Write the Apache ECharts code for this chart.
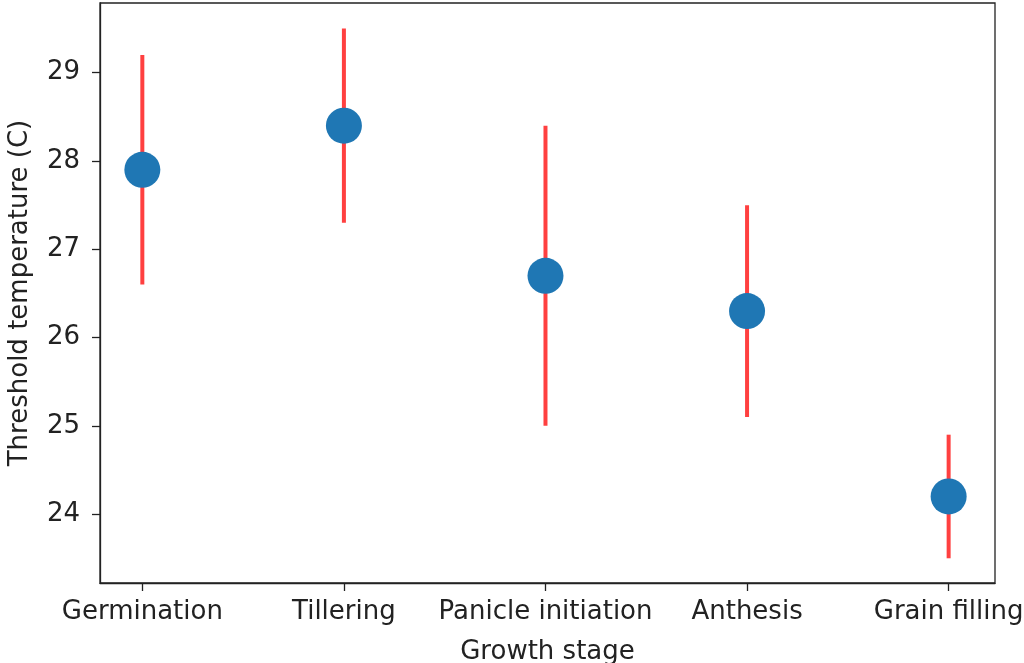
<!DOCTYPE html>
<html>
<head>
<meta charset="utf-8">
<script src="https://cdn.jsdelivr.net/npm/echarts@6/dist/echarts.min.js"></script>
<style>
  html, body { margin: 0; padding: 0; background: #fff; }
  #chart { width: 1024px; height: 663px; }
</style>
</head>
<body>
<div id="chart"></div>
<script>
// Threshold temperature by rice growth stage, with uncertainty ranges
const stages = ['Germination', 'Tillering', 'Panicle initiation', 'Anthesis', 'Grain filling'];
const threshold = [27.9, 28.4, 26.7, 26.3, 24.2];
const lower = [26.6, 27.3, 25.0, 25.1, 23.5];
const upper = [29.2, 29.5, 28.4, 27.5, 24.9];
const yTicks = [24, 25, 26, 27, 28, 29];
const xTicks = [0, 1, 2, 3, 4];

const font = 'DejaVu Sans';
const textColor = '#222';
const frameColor = '#222';

const chart = echarts.init(document.getElementById('chart'), null, { renderer: 'canvas' });

chart.setOption({
  animation: false,
  backgroundColor: '#fff',
  grid: {
    left: 100, right: 29, top: 3, bottom: 80,
    outerBoundsMode: 'none',
    containLabel: false,
    show: true, borderColor: frameColor, borderWidth: 1.3, backgroundColor: 'transparent'
  },
  xAxis: {
    type: 'value',
    min: -0.21, max: 4.23,
    name: 'Growth stage',
    nameLocation: 'middle',
    nameGap: 56,
    nameTextStyle: { fontFamily: font, fontSize: 26, color: textColor },
    axisLine: { show: true, onZero: false, lineStyle: { color: frameColor, width: 1.3 } },
    axisTick: { show: true, length: 8, customValues: xTicks, lineStyle: { color: frameColor, width: 1.3 } },
    axisLabel: {
      customValues: xTicks,
      margin: 16,
      fontFamily: font, fontSize: 26, color: textColor,
      formatter: v => stages[Math.round(v)]
    },
    splitLine: { show: false }
  },
  yAxis: {
    type: 'value',
    min: 23.22, max: 29.79,
    name: 'Threshold temperature (C)',
    nameLocation: 'middle',
    nameGap: 67,
    nameTextStyle: { fontFamily: font, fontSize: 26, color: textColor },
    axisLine: { show: true, onZero: false, lineStyle: { color: frameColor, width: 1.3 } },
    axisTick: { show: true, length: 8, customValues: yTicks, lineStyle: { color: frameColor, width: 1.3 } },
    axisLabel: {
      customValues: yTicks,
      margin: 20,
      fontFamily: font, fontSize: 26, color: textColor
    },
    splitLine: { show: false }
  },
  series: [
    {
      type: 'custom',
      name: 'range',
      z: 2,
      data: stages.map((s, i) => [i, lower[i], upper[i]]),
      renderItem: function (params, api) {
        const p0 = api.coord([api.value(0), api.value(1)]);
        const p1 = api.coord([api.value(0), api.value(2)]);
        return {
          type: 'line',
          shape: { x1: p0[0], y1: p0[1], x2: p1[0], y2: p1[1] },
          style: { stroke: 'rgba(255,0,0,0.75)', lineWidth: 4 }
        };
      }
    },
    {
      type: 'scatter',
      name: 'threshold',
      z: 3,
      symbol: 'circle',
      symbolSize: 36,
      itemStyle: { color: '#1f77b4', opacity: 1 },
      data: threshold.map((v, i) => [i, v])
    }
  ]
});
</script>
</body>
</html>
